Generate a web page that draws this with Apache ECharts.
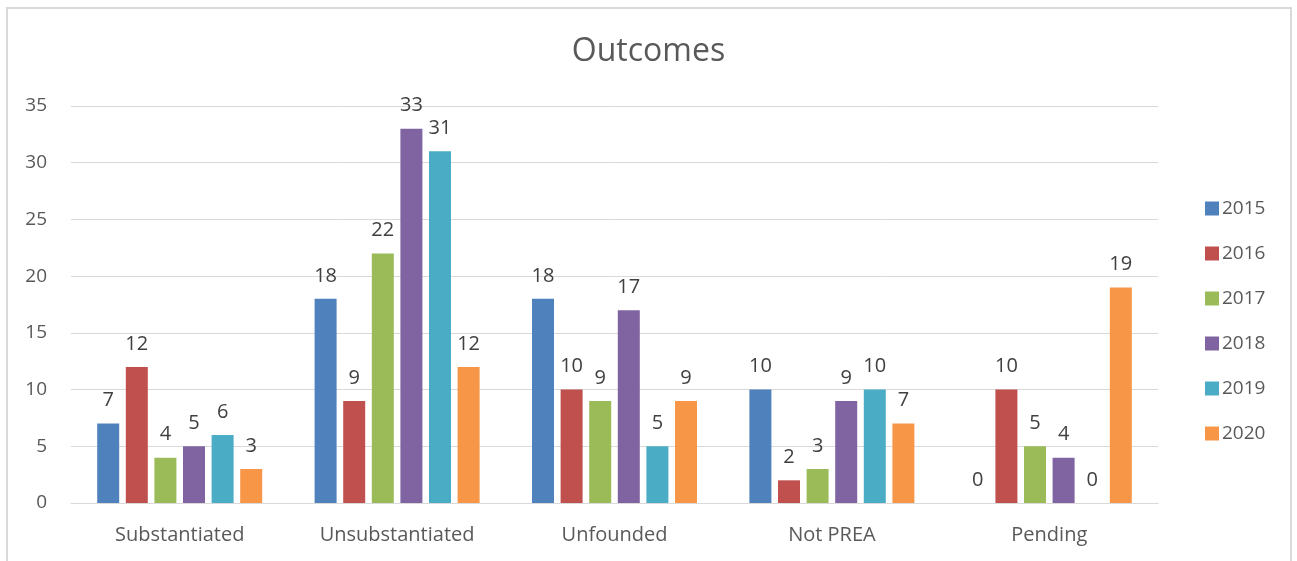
<!DOCTYPE html>
<html>
<head>
<meta charset="utf-8">
<script src="https://cdn.jsdelivr.net/npm/echarts@6/dist/echarts.min.js"></script>
<style>
html,body{margin:0;padding:0;background:#fff;}
#frame{position:absolute;left:6px;top:7px;width:1286px;height:560px;border-left:2px solid #d9d9d9;border-top:2px solid #d9d9d9;border-right:2px solid #d9d9d9;box-sizing:border-box;pointer-events:none;}
#chart{position:absolute;left:0;top:0;width:1297px;height:561px;}
</style>
</head>
<body>
<div id="chart"></div>
<div id="frame"></div>
<script>
const categories = ['Substantiated', 'Unsubstantiated', 'Unfounded', 'Not PREA', 'Pending'];
const years = ['2015', '2016', '2017', '2018', '2019', '2020'];
const v2015 = [7, 18, 18, 10, 0];
const v2016 = [12, 9, 10, 2, 10];
const v2017 = [4, 22, 9, 3, 5];
const v2018 = [5, 33, 17, 9, 4];
const v2019 = [6, 31, 5, 10, 0];
const v2020 = [3, 12, 9, 7, 19];
const colors = ['#4f81bd', '#c0504d', '#9bbb59', '#8064a2', '#4bacc6', '#f79646'];
const seriesValues = [v2015, v2016, v2017, v2018, v2019, v2020];

const FONT = 'Open Sans';
const chart = echarts.init(document.getElementById('chart'));
chart.setOption({
  animation: false,
  color: colors,
  title: {
    text: 'Outcomes',
    left: 'center', top: 31,
    textStyle: {fontFamily: FONT, fontSize: 32, fontWeight: 'normal', color: '#595959'}
  },
  legend: {
    orient: 'vertical',
    left: 1200, top: 194,
    itemWidth: 14, itemHeight: 14, itemGap: 26,
    icon: 'rect',
    textStyle: {fontFamily: FONT, fontSize: 19, color: '#595959', padding: [0,0,0,-2]},
    data: years
  },
  grid: {left: 71, right: 139, top: 106, bottom: 58, containLabel: false},
  xAxis: {
    type: 'category',
    data: categories,
    axisLine: {lineStyle: {color: '#d9d9d9', width: 1}},
    axisTick: {show: false},
    axisLabel: {fontFamily: FONT, fontSize: 20, color: '#595959', margin: 22}
  },
  yAxis: {
    type: 'value',
    min: 0, max: 35, interval: 5,
    axisLine: {show: false},
    axisTick: {show: false},
    splitLine: {lineStyle: {color: '#d9d9d9', width: 1}},
    axisLabel: {fontFamily: FONT, fontSize: 19, color: '#595959', margin: 24}
  },
  series: years.map((y, i) => ({
    name: y,
    type: 'bar',
    data: seriesValues[i],
    barWidth: 22,
    barGap: '30%',
    itemStyle: {color: colors[i]},
    label: {show: true, position: 'top', distance: 13, fontFamily: FONT, fontSize: 20, color: '#404040'}
  }))
});
</script>
</body>
</html>
